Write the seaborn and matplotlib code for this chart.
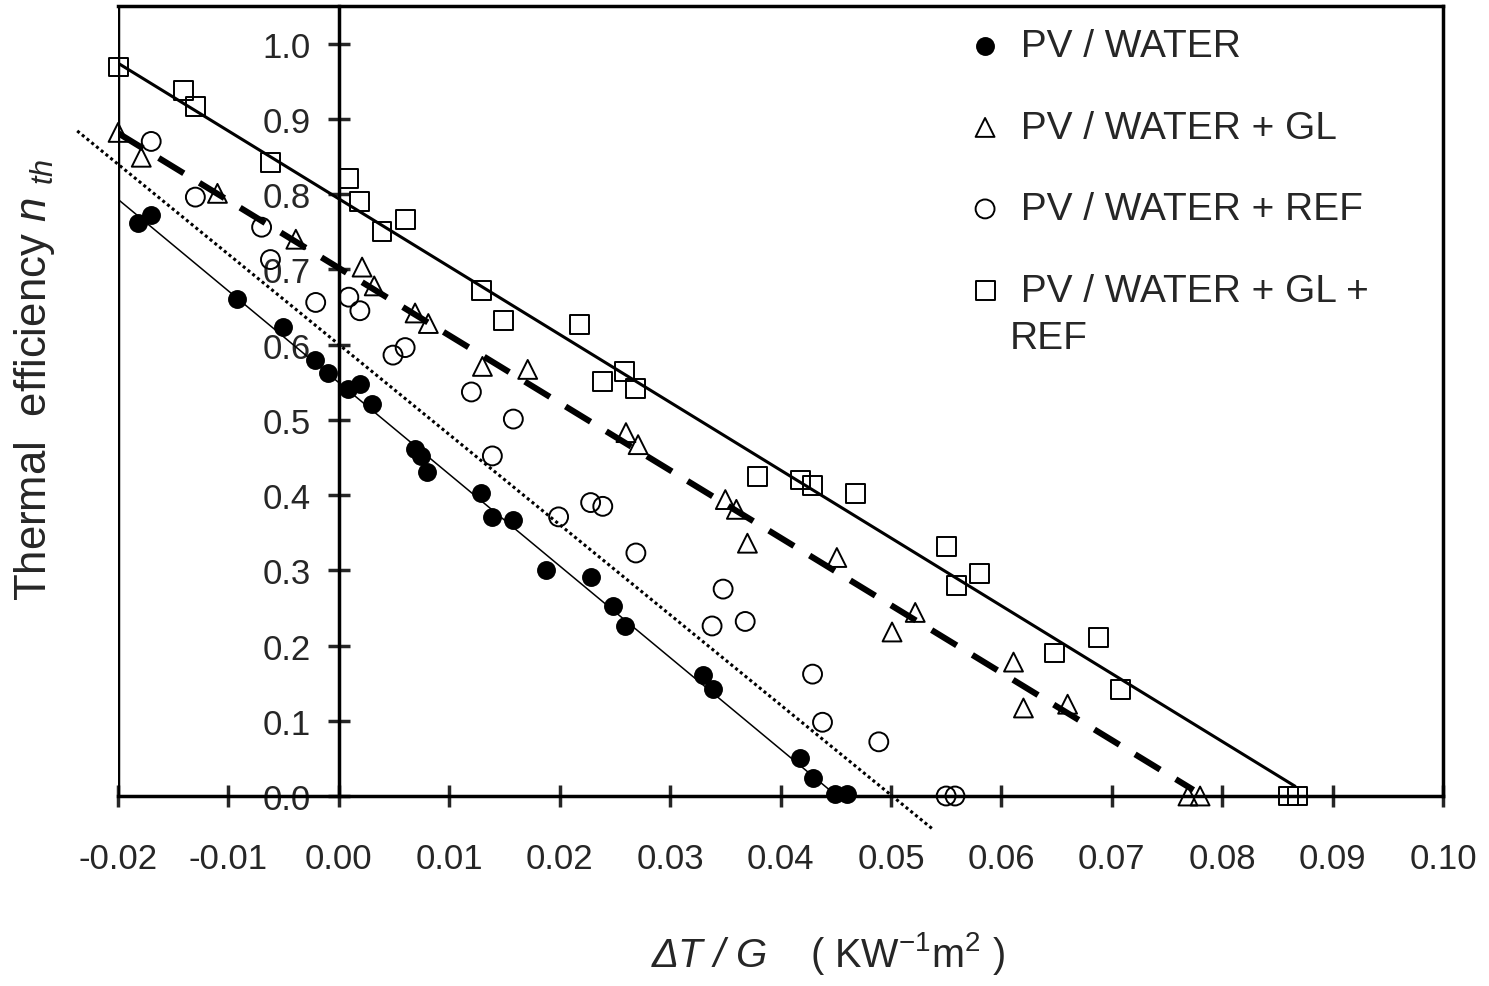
import matplotlib
matplotlib.use('Agg')
import matplotlib.pyplot as plt
import seaborn as sns
from matplotlib.ticker import MultipleLocator, FixedLocator, FormatStrFormatter

# PV / WATER (filled circles)
water_x = [-0.0182, -0.0170, -0.0092, -0.0051, -0.0022, -0.0010, 0.0008, 0.0019, 0.0030,
           0.0069, 0.0074, 0.0080, 0.0129, 0.0139, 0.0158, 0.0188, 0.0228, 0.0248, 0.0259,
           0.0330, 0.0339, 0.0418, 0.0429, 0.0449, 0.0460]
water_y = [0.761, 0.772, 0.661, 0.623, 0.580, 0.562, 0.541, 0.547, 0.521,
           0.461, 0.452, 0.431, 0.403, 0.371, 0.367, 0.301, 0.291, 0.252, 0.226,
           0.161, 0.142, 0.050, 0.024, 0.002, 0.002]

# PV / WATER + GL (open triangles)
gl_x = [-0.0200, -0.0179, -0.0110, -0.0039, 0.0021, 0.0032, 0.0069, 0.0081, 0.0130, 0.0171,
        0.0260, 0.0271, 0.0350, 0.0360, 0.0370, 0.0451, 0.0501, 0.0522, 0.0611, 0.0620,
        0.0660, 0.0769, 0.0780]
gl_y = [0.882, 0.849, 0.801, 0.740, 0.703, 0.678, 0.642, 0.628, 0.571, 0.567,
        0.483, 0.467, 0.394, 0.381, 0.336, 0.317, 0.218, 0.244, 0.178, 0.117,
        0.122, 0.0, 0.0]

# PV / WATER + REF (open circles)
ref_x = [-0.0170, -0.0130, -0.0070, -0.0062, -0.0021, 0.0009, 0.0019, 0.0049, 0.0060, 0.0120,
         0.0158, 0.0139, 0.0199, 0.0228, 0.0239, 0.0269, 0.0348, 0.0338, 0.0368, 0.0429,
         0.0438, 0.0489, 0.0550, 0.0558]
ref_y = [0.870, 0.796, 0.756, 0.713, 0.656, 0.663, 0.645, 0.586, 0.596, 0.537,
         0.501, 0.452, 0.371, 0.390, 0.385, 0.323, 0.275, 0.226, 0.232, 0.162,
         0.098, 0.072, 0.0, 0.0]

# PV / WATER + GL + REF (open squares)
sq_x = [-0.0200, -0.0141, -0.0130, -0.0062, 0.0009, 0.0019, 0.0039, 0.0060, 0.0129, 0.0149,
        0.0218, 0.0239, 0.0259, 0.0269, 0.0379, 0.0418, 0.0429, 0.0468, 0.0550, 0.0559,
        0.0580, 0.0648, 0.0688, 0.0708, 0.0860, 0.0868]
sq_y = [0.969, 0.938, 0.916, 0.842, 0.821, 0.790, 0.750, 0.766, 0.672, 0.632,
        0.627, 0.551, 0.564, 0.542, 0.425, 0.420, 0.413, 0.402, 0.332, 0.280,
        0.296, 0.190, 0.211, 0.141, 0.0, 0.0]

# fitted lines (end points)
water_fit_x = [-0.0200, 0.0451]
water_fit_y = [0.793, 0.0]
ref_fit_x = [-0.0237, 0.0537]
ref_fit_y = [0.884, -0.043]
gl_fit_x = [-0.0200, 0.0774]
gl_fit_y = [0.881, 0.008]
sq_fit_x = [-0.0200, 0.0866]
sq_fit_y = [0.974, 0.013]

labels = [' PV / WATER', ' PV / WATER + GL', ' PV / WATER + REF', ' PV / WATER + GL +']
label_wrap = 'REF'

sns.set_style('white')
plt.rcParams['font.family'] = ['Liberation Sans', 'DejaVu Sans']
plt.rcParams['mathtext.fontset'] = 'custom'
plt.rcParams['mathtext.rm'] = 'Liberation Sans'
plt.rcParams['mathtext.it'] = 'Liberation Sans:italic'
plt.rcParams['axes.unicode_minus'] = False

fig = plt.figure(figsize=(14.89, 9.87), dpi=100)
ax = fig.add_axes([0.0793, 0.1925, 0.8898, 0.8004])

# fit lines
sns.lineplot(x=water_fit_x, y=water_fit_y, color='k', lw=1.1, ax=ax)
sns.lineplot(x=ref_fit_x, y=ref_fit_y, color='k', lw=2.2, linestyle=(0, (1.0, 1.0)),
             clip_on=False, ax=ax)
sns.lineplot(x=gl_fit_x, y=gl_fit_y, color='k', lw=4.4, linestyle=(0, (4.8, 3.0)), ax=ax)
sns.lineplot(x=sq_fit_x, y=sq_fit_y, color='k', lw=2.2, ax=ax)

# measured points
ms = 185
sns.scatterplot(x=water_x, y=water_y, marker='o', color='k', s=ms, linewidth=0,
                label=labels[0], clip_on=False, zorder=4, ax=ax)
sns.scatterplot(x=gl_x, y=gl_y, marker='^', facecolors='none', edgecolor='k', s=ms,
                linewidth=1.4, label=labels[1], clip_on=False, zorder=4, ax=ax)
sns.scatterplot(x=ref_x, y=ref_y, marker='o', facecolors='none', edgecolor='k', s=ms,
                linewidth=1.4, label=labels[2], clip_on=False, zorder=4, ax=ax)
sns.scatterplot(x=sq_x, y=sq_y, marker='s', facecolors='none', edgecolor='k', s=ms,
                linewidth=1.4, label=labels[3], clip_on=False, zorder=4, ax=ax)

ax.set_xlim(-0.02, 0.10)
ax.set_ylim(0, 1.05)

# axes cross at the origin, with a frame round the plot
ax.spines['left'].set_position(('data', 0))
for s in ['left', 'right', 'top', 'bottom']:
    ax.spines[s].set_linewidth(2.5)
    ax.spines[s].set_color('k')
ax.axvline(-0.02, color='k', lw=2.5)

ax.xaxis.set_major_locator(MultipleLocator(0.01))
ax.xaxis.set_minor_locator(FixedLocator([-0.015 + 0.01 * i for i in range(12)]))
ax.yaxis.set_major_locator(MultipleLocator(0.1))
ax.yaxis.set_minor_locator(FixedLocator([0.05 + 0.1 * i for i in range(10)]))
ax.xaxis.set_major_formatter(FormatStrFormatter('%.2f'))
ax.yaxis.set_major_formatter(FormatStrFormatter('%.1f'))

ax.tick_params(axis='x', which='major', direction='inout', length=16, width=2.5,
               labelsize=25, pad=25, bottom=True, top=False)
ax.tick_params(axis='y', which='major', direction='inout', length=16, width=2.5,
               labelsize=25, pad=12, left=True, right=False)
ax.tick_params(axis='both', which='minor', direction='out', length=7, width=2.5)

# x label: italic quantity + upright units
ax.set_xlabel('')
ax.text(0.4906, -0.2152, 'ΔT / G', style='italic', fontsize=29, ha='right', va='baseline',
        transform=ax.transAxes)
ax.text(0.5223, -0.2152, '( KW$^{-1}$m$^{2}$ )', fontsize=28.5, ha='left', va='baseline',
        transform=ax.transAxes)

ax.set_ylabel(r'Thermal  efficiency $n\ {}_{th}$', fontsize=31.5)
ax.yaxis.set_label_coords(-0.046, 0.528)

leg = ax.legend(loc='upper left', bbox_to_anchor=(0.6397, 0.972), frameon=False, fontsize=28,
                handlelength=1.0, handletextpad=0.14, labelspacing=1.17, markerscale=1.0,
                borderpad=0, borderaxespad=0)

# second line of the last legend label, set under its first line
fig.canvas.draw()
bb = leg.get_texts()[3].get_window_extent().transformed(ax.transAxes.inverted())
ax.text(bb.x0, bb.y0 - 0.014, label_wrap, fontsize=28, ha='left', va='top',
        transform=ax.transAxes)

fig.savefig('out.png', dpi=100)
